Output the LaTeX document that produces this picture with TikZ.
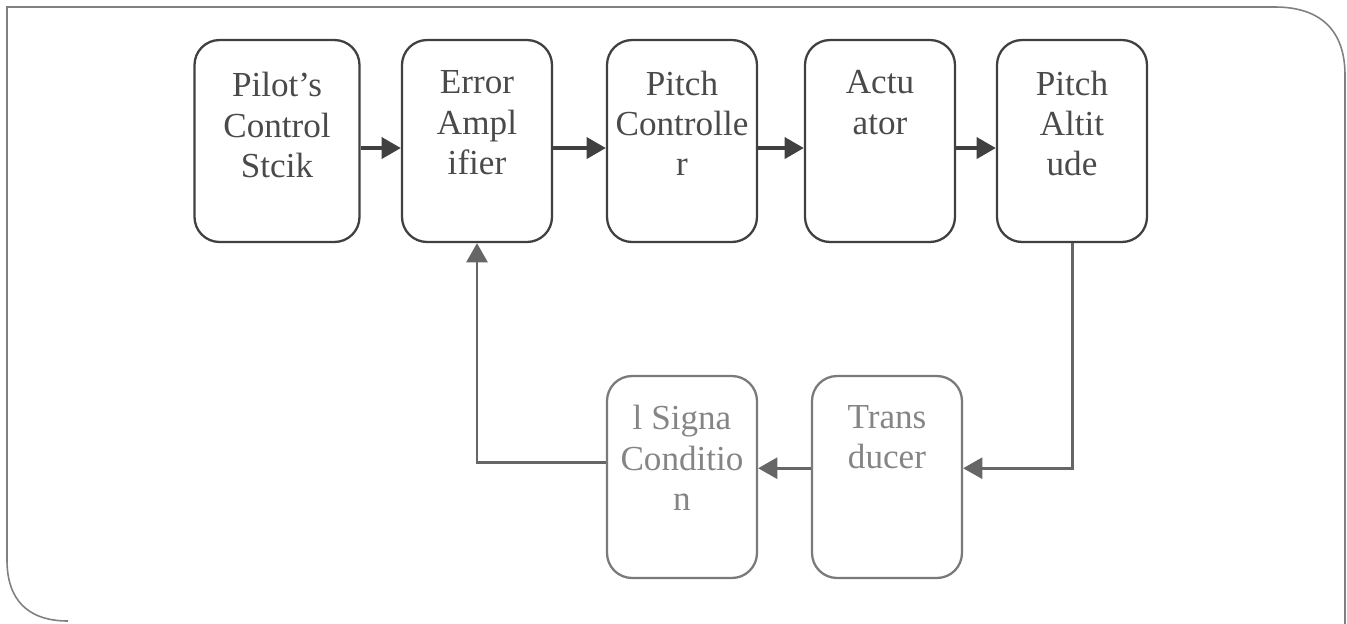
\documentclass[tikz,border=0pt]{standalone}
\usepackage{fontspec}
\setmainfont{Liberation Serif}
\usetikzlibrary{arrows.meta,positioning}

\definecolor{darkline}{HTML}{404040}
\definecolor{darktext}{HTML}{4A4A4A}
\definecolor{paleline}{HTML}{7A7A7A}
\definecolor{paletext}{HTML}{858585}
\definecolor{fbline}{HTML}{666666}
\definecolor{framegray}{HTML}{808080}

\begin{document}
\begin{tikzpicture}[x = 0.02cm, y = -0.02cm,
  blk/.style = {draw = darkline, line width = 1.3pt, rounded corners = 0.5cm,
                minimum width = 3cm, minimum height = 4.04cm},
  fbblk/.style = {blk, draw = paleline},
  lbl/.style = {align = center, text = darktext, inner sep = 0pt,
                font = \fontsize{20}{23}\selectfont},
  fblbl/.style = {lbl, text = paletext},
  flow/.style = {draw = darkline, line width = 2.2pt,
                 -{Triangle[length = 11pt, width = 12pt]}},
  back/.style = {draw = fbline, line width = 1.7pt,
                 -{Triangle[length = 11pt, width = 12pt]}}]

\useasboundingbox (0,0) rectangle (1347,623);

% outer frame
\draw[framegray, line width = 0.9pt] (1345,640) -- (1345,75)
  .. controls (1345,30) and (1320,7) .. (1275,7) -- (7,7) -- (7,560)
  .. controls (7,600) and (28,621) .. (68,621);

% forward path
\node[blk, minimum width = 3.3cm] (pcs) at (277,141) {};
\node[blk] (err)  at (477,141) {};
\node[blk] (pctl) at (682,141) {};
\node[blk] (act)  at (880,141) {};
\node[blk] (palt) at (1072,141) {};

\node[lbl, below = 0.66cm of pcs.north]  (pcsT)  {Pilot’s\\Control\\Stcik};
\node[lbl, below = 0.63cm of err.north]  (errT)  {Error\\Ampl\\ifier};
\node[lbl, below = 0.63cm of pctl.north] (pctlT) {Pitch\\Controlle\\r};
\node[lbl, below = 0.63cm of act.north]  (actT)  {Actu\\ator};
\node[lbl, below = 0.63cm of palt.north] (paltT) {Pitch\\Altit\\ude};

% feedback path
\node[fbblk] (sig) at (682,477) {};
\node[fbblk] (trd) at (887,477) {};

\node[fblbl, below = 0.6cm of sig.north] (sigT) {l Signa\\Conditio\\n};
\node[fblbl, below = 0.6cm of trd.north] (trdT) {Trans\\ducer};

\draw[flow] ([yshift = -4pt]pcs.east) -- ([yshift = -4pt]err.west);
\draw[flow] ([yshift = -4pt]err.east) -- ([yshift = -4pt]pctl.west);
\draw[flow] ([yshift = -4pt]pctl.east) -- ([yshift = -4pt]act.west);
\draw[flow] ([yshift = -4pt]act.east) -- ([yshift = -4pt]palt.west);

\draw[back] (palt.south) |- ([yshift = 5pt]trd.east);
\draw[back] ([yshift = 5pt]trd.west) -- ([yshift = 5pt]sig.east);
\draw[back] ([yshift = 8pt]sig.west) -| (err.south);

\end{tikzpicture}
\end{document}
